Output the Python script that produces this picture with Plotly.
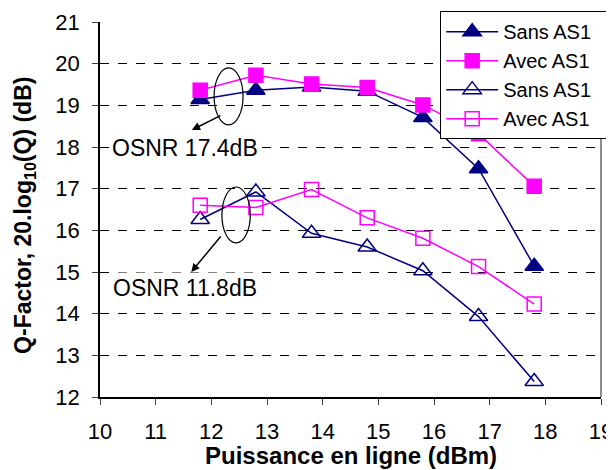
import plotly.graph_objects as go

# Puissance en ligne (dBm)
puissance = [11.8, 12.8, 13.8, 14.8, 15.8, 16.8, 17.8]

# OSNR 17.4 dB
sans_as1_hi = [19.14, 19.36, 19.44, 19.34, 18.71, 17.48, 15.14]
avec_as1_hi = [19.36, 19.72, 19.51, 19.43, 19.01, 18.32, 17.06]
# OSNR 11.8 dB
sans_as1_lo = [16.26, 16.92, 15.93, 15.60, 15.03, 13.93, 12.37]
avec_as1_lo = [16.60, 16.55, 16.98, 16.30, 15.81, 15.13, 14.23]

NAVY = "#000080"
MAGENTA = "#FF00FF"
FONT = "Arial, Liberation Sans, sans-serif"
PAD = "\u00a0" * 3   # widen legend box towards the right edge

fig = go.Figure()

series = [
    ("Sans AS1", sans_as1_hi, NAVY, "triangle-up", 16),
    ("Avec AS1", avec_as1_hi, MAGENTA, "square", 14),
    ("Sans AS1", sans_as1_lo, NAVY, "triangle-up-open", 16),
    ("Avec AS1", avec_as1_lo, MAGENTA, "square-open", 14),
]
for name, vals, color, symbol, size in series:
    fig.add_trace(go.Scatter(
        x=puissance, y=vals, mode="lines+markers", name=name + PAD,
        line=dict(color=color, width=1.5),
        marker=dict(color=color, symbol=symbol, size=size,
                    line=dict(color=color, width=1.5)),
    ))

# ellipses around the first two points of each group
fig.add_shape(type="circle", xref="x", yref="y",
              x0=12.05, x1=12.57, y0=18.53, y1=19.90,
              line=dict(color="black", width=1.2))
fig.add_shape(type="circle", xref="x", yref="y",
              x0=12.19, x1=12.70, y0=15.70, y1=17.04,
              line=dict(color="black", width=1.2))
# right border of plot area
fig.add_shape(type="line", xref="paper", yref="paper",
              x0=1, x1=1, y0=0, y1=1,
              line=dict(color="#404040", width=1.2))

# arrows
for (tx, ty), (hx, hy) in [((12.19, 18.77), (11.65, 18.41)),
                           ((12.19, 15.89), (11.64, 15.00))]:
    fig.add_annotation(x=hx, y=hy, ax=tx, ay=ty, xref="x", yref="y",
                       axref="x", ayref="y", text="", showarrow=True,
                       arrowhead=2, arrowsize=1.1, arrowwidth=1.5,
                       arrowcolor="black")

for label, yy in [("OSNR 17.4dB", 17.98), ("OSNR 11.8dB", 14.62)]:
    fig.add_annotation(x=11.52, y=yy, xref="x", yref="y", text=label,
                       showarrow=False, bgcolor="white", borderpad=2,
                       font=dict(family=FONT, size=23, color="black"))

# axis titles
fig.add_annotation(x=0.5, y=-0.1547, xref="paper", yref="paper",
                   text="<b>Puissance en ligne (dBm)</b>", showarrow=False,
                   xanchor="center", yanchor="middle",
                   font=dict(family=FONT, size=24, color="black"))
fig.add_annotation(x=-0.1497, y=0.483, xref="paper", yref="paper",
                   text="<b>Q-Factor, 20.log<sub>10</sub>(Q) (dB)</b>",
                   showarrow=False, textangle=-90,
                   xanchor="center", yanchor="middle",
                   font=dict(family=FONT, size=23, color="black"))

# the page body adds an 8px offset, so margins are shifted by 8px
fig.update_layout(
    width=614, height=470,
    margin=dict(l=92, r=21, t=14, b=81, autoexpand=False),
    paper_bgcolor="white", plot_bgcolor="white",
    font=dict(family=FONT, size=22, color="black"),
    showlegend=True,
    legend=dict(x=0.679, y=1.029, xanchor="left", yanchor="top",
                bgcolor="white", bordercolor="black", borderwidth=1,
                font=dict(family=FONT, size=20), tracegroupgap=0,
                itemwidth=52),
    xaxis=dict(
        range=[10, 19], tickmode="linear", tick0=10, dtick=1,
        showgrid=False, zeroline=False, automargin=False,
        showline=True, linecolor="black", linewidth=1.5,
        ticks="outside", ticklen=6, tickcolor="#404040",
        ticklabelstandoff=8,
        tickfont=dict(family=FONT, size=22),
    ),
    yaxis=dict(
        range=[12, 21], tickmode="linear", tick0=12, dtick=1,
        showgrid=True, gridcolor="black", griddash="dash", gridwidth=1,
        zeroline=False, automargin=False,
        showline=True, linecolor="black", linewidth=1.5,
        ticks="outside", ticklen=6, tickcolor="#404040",
        ticklabelstandoff=8,
        tickfont=dict(family=FONT, size=22),
    ),
)

fig.write_html("out.html")
